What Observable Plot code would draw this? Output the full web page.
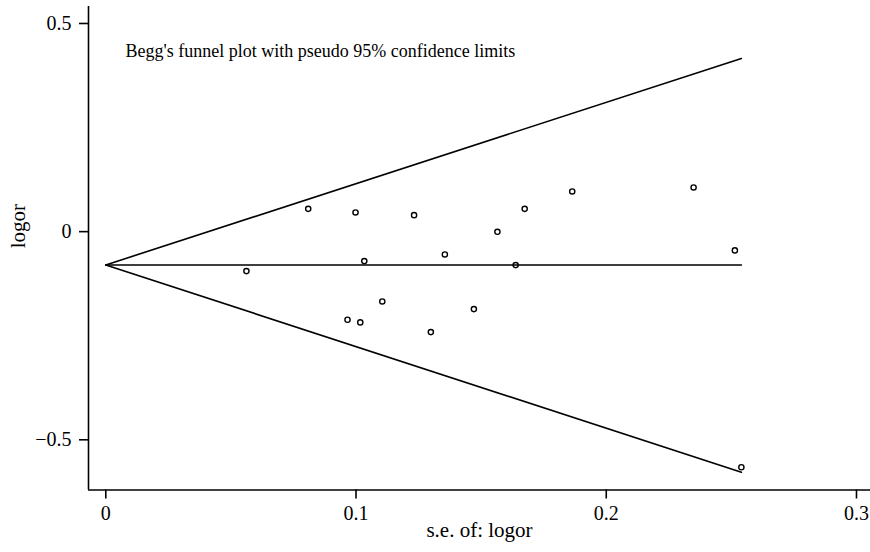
<!DOCTYPE html>
<html>
<head>
<meta charset="utf-8">
<script src="https://cdn.jsdelivr.net/npm/d3@7"></script>
<script src="https://cdn.jsdelivr.net/npm/@observablehq/plot@0.6"></script>
<style>
  html, body { margin: 0; padding: 0; background: #fff; }
  svg { display: block; }
</style>
</head>
<body>
<div id="chart"></div>
<script>
// Study standard errors and log odds ratios
const se    = [0.0562, 0.0809, 0.0966, 0.0998, 0.1017, 0.1033, 0.1105, 0.1232, 0.1299,
               0.1355, 0.1471, 0.1565, 0.1638, 0.1674, 0.1864, 0.2349, 0.2514, 0.2540];
const logor = [-0.0948, 0.0547, -0.2117, 0.0461, -0.2180, -0.0708, -0.1677, 0.0396, -0.2413,
               -0.0548, -0.1861, -0.0004, -0.0804, 0.0547, 0.0965, 0.1061, -0.0451, -0.5660];

// Pseudo 95% confidence limits (funnel) and pooled estimate
const limitSe    = [0, 0.254];
const upperLimit = [-0.08, 0.416];
const lowerLimit = [-0.08, -0.578];
const pooled     = [-0.08, -0.08];

const xTicks = [0, 0.1, 0.2, 0.3];
const yTicks = [-0.5, 0, 0.5];
const xTickLabels = ["0", "0.1", "0.2", "0.3"];
const yTickLabels = ["\u22120.5", "0", "0.5"];
const title = "Begg's funnel plot with pseudo 95% confidence limits";
const xLabel = "s.e. of: logor";
const yLabel = "logor";

const points = se.map((s, i) => ({se: s, logor: logor[i]}));
const mkLine = (ys) => limitSe.map((s, i) => ({se: s, v: ys[i]}));

const xDomain = [-0.00691, 0.3056];
const yDomain = [-0.6206, 0.5408];

const font = "Liberation Serif";

const chart = Plot.plot({
  width: 870,
  height: 552,
  marginTop: 6,
  marginBottom: 62.5,
  marginLeft: 88,
  marginRight: 0,
  style: {fontSize: "20px", color: "#000", background: "#fff"},
  x: {domain: xDomain},
  y: {domain: yDomain},
  marks: [
    Plot.line(mkLine(upperLimit), {x: "se", y: "v", stroke: "#000", strokeWidth: 1.6}),
    Plot.line(mkLine(lowerLimit), {x: "se", y: "v", stroke: "#000", strokeWidth: 1.6}),
    Plot.line(mkLine(pooled), {x: "se", y: "v", stroke: "#000", strokeWidth: 1.6}),
    Plot.dot(points, {x: "se", y: "logor", r: 2.6, stroke: "#000", strokeWidth: 1.4, fill: "none"}),
    Plot.ruleX([xDomain[0]], {stroke: "#000", strokeWidth: 1.6}),
    Plot.ruleY([yDomain[0]], {stroke: "#000", strokeWidth: 1.6}),
    Plot.axisX({ticks: xTicks, tickSize: 9, tickPadding: 7, label: null, fontSize: 20, fontFamily: font,
                strokeWidth: 1.6, tickFormat: (d) => xTickLabels[xTicks.indexOf(d)]}),
    Plot.axisY({ticks: yTicks, tickSize: 9, tickPadding: 8, label: null, fontSize: 20, fontFamily: font,
                strokeWidth: 1.6, tickFormat: (d) => yTickLabels[yTicks.indexOf(d)]}),
    Plot.text([xLabel], {frameAnchor: "bottom", dy: 47, fontSize: 21, fontFamily: font}),
    Plot.text([yLabel], {frameAnchor: "left", dx: -70.5, rotate: -90, fontSize: 21, fontFamily: font}),
    Plot.text([title], {frameAnchor: "top-left", dx: 37, dy: 38, textAnchor: "start", fontSize: 18, fontFamily: font})
  ]
});
chart.setAttribute("font-family", font);
chart.style.setProperty("font-family", "'Liberation Serif', serif", "important");
chart.querySelectorAll("text, g").forEach((el) => {
  if (el.hasAttribute("font-family")) el.setAttribute("font-family", font);
});
chart.querySelectorAll("text").forEach((el) => {
  el.style.setProperty("font-family", "'Liberation Serif', serif", "important");
});
document.getElementById("chart").appendChild(chart);
</script>
</body>
</html>
